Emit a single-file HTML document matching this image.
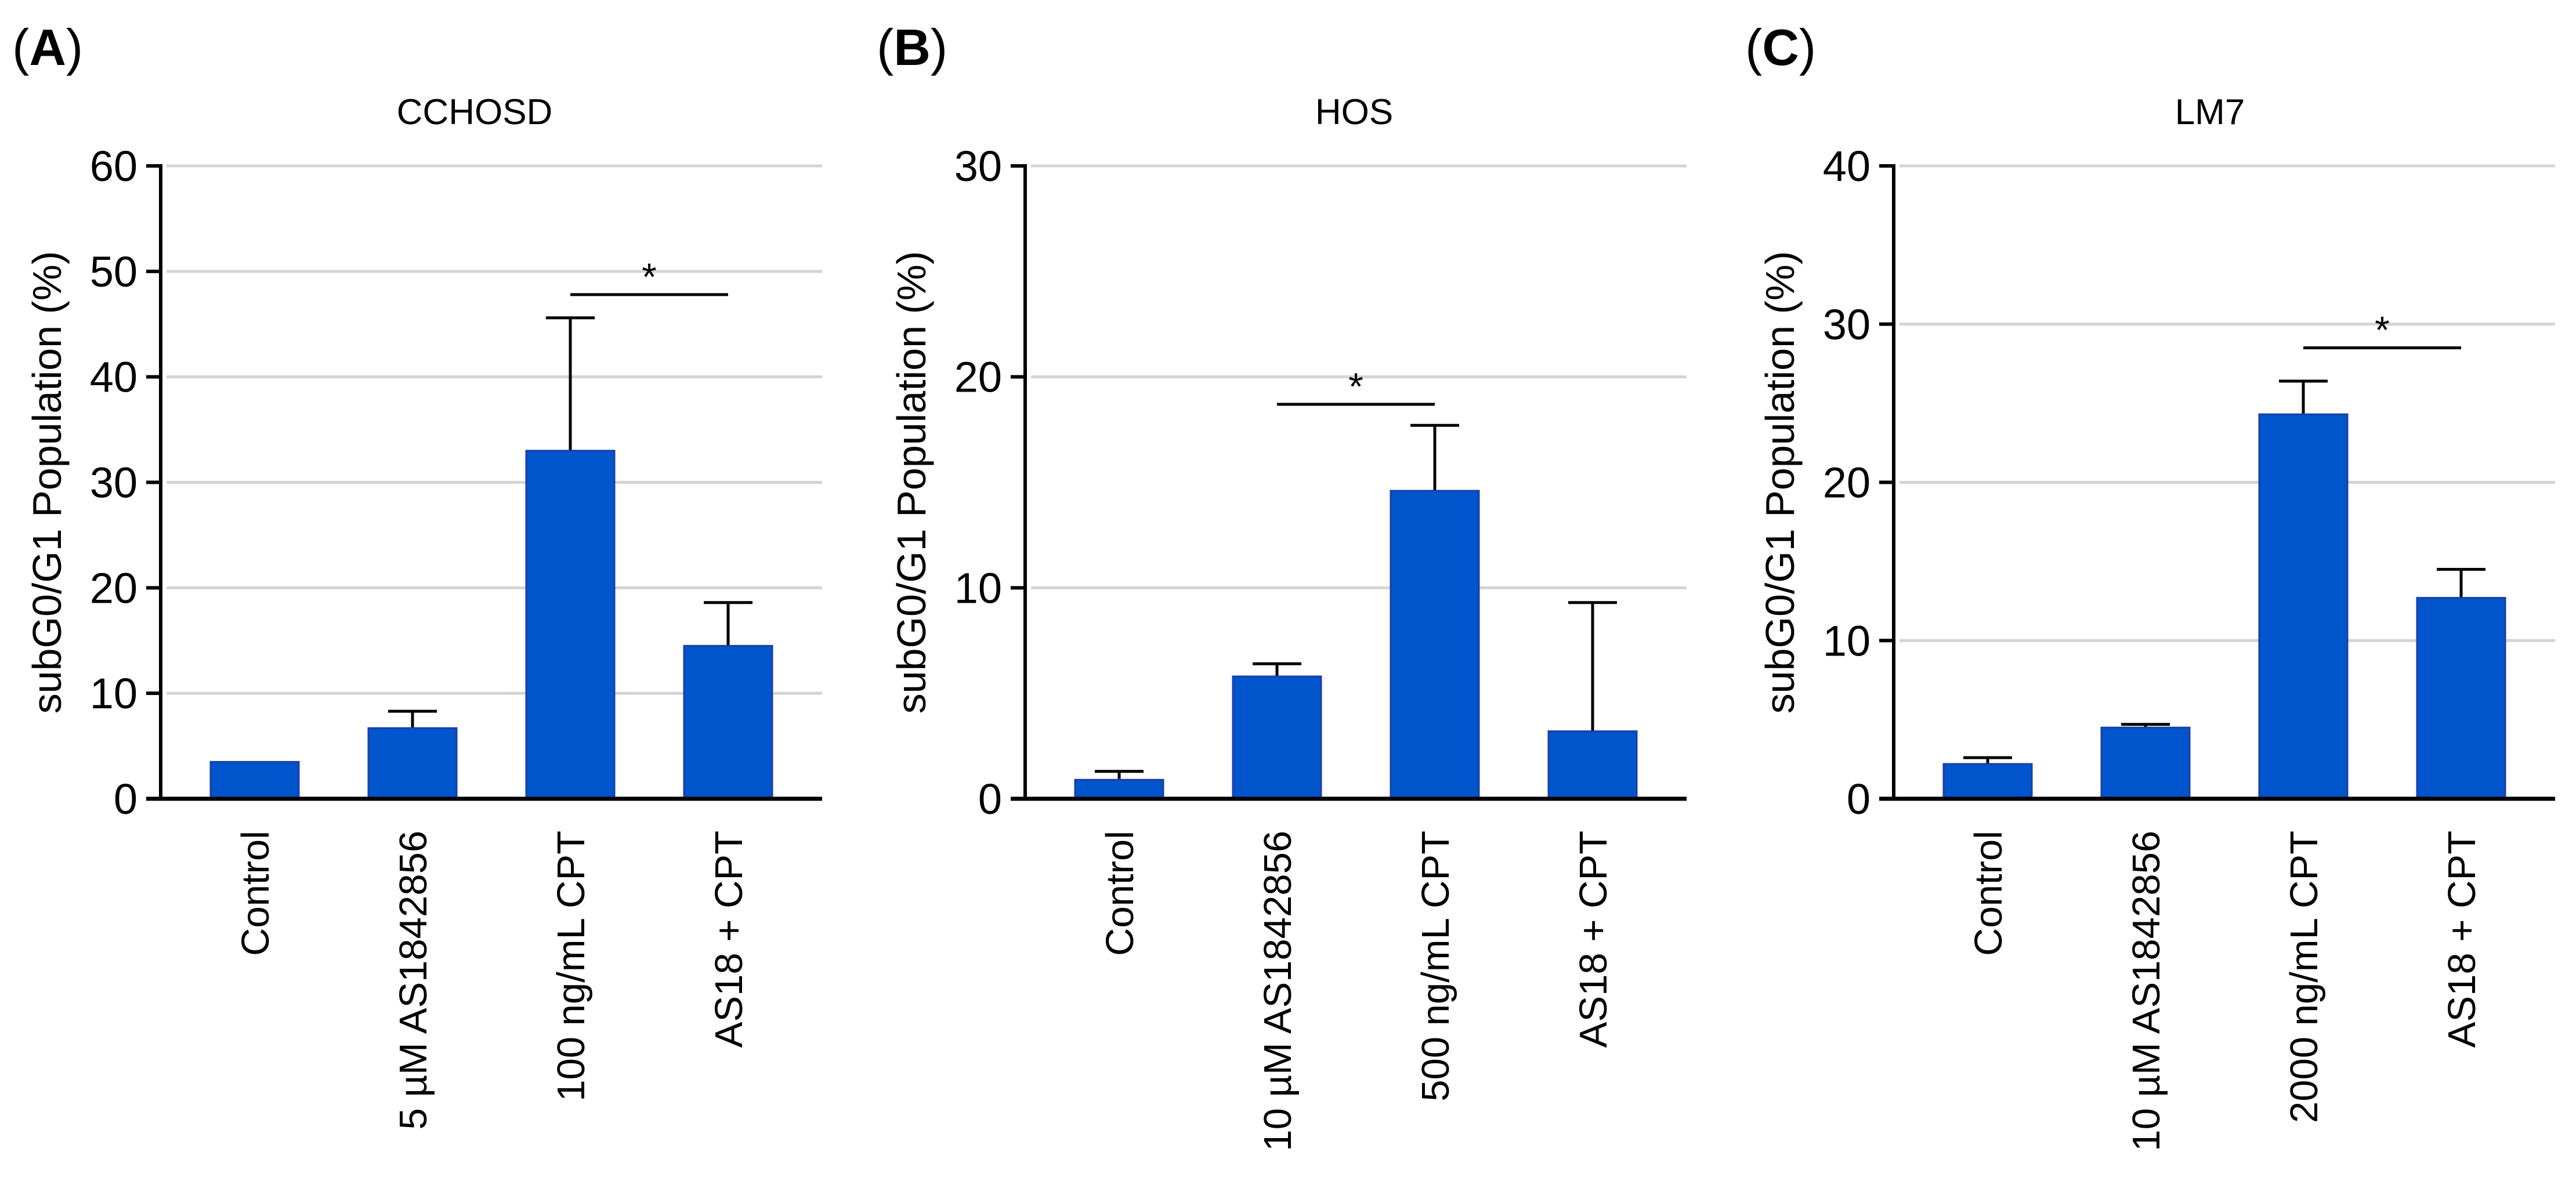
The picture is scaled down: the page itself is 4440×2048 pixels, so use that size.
<!DOCTYPE html>
<html><head><meta charset="utf-8"><style>
html,body{margin:0;padding:0;background:#fff;}
svg{display:block;font-family:"Liberation Sans",Arial,sans-serif;}
</style></head><body>
<svg id="fig" width="4440" height="2048" viewBox="0 0 4440 2048" xmlns="http://www.w3.org/2000/svg"></svg>
<script>
const categoriesA = ["Control","5 µM AS1842856","100 ng/mL CPT","AS18 + CPT"];
const valuesA = [3.5, 6.7, 33.0, 14.5];
const errorsA = [3.5, 8.3, 45.6, 18.6];
const ticksA = [0,10,20,30,40,50,60];
const sigA = [2, 3, 47.8];

const categoriesB = ["Control","10 µM AS1842856","500 ng/mL CPT","AS18 + CPT"];
const valuesB = [0.9, 5.8, 14.6, 3.2];
const errorsB = [1.3, 6.4, 17.7, 9.3];
const ticksB = [0,10,20,30];
const sigB = [1, 2, 18.7];

const categoriesC = ["Control","10 µM AS1842856","2000 ng/mL CPT","AS18 + CPT"];
const valuesC = [2.2, 4.5, 24.3, 12.7];
const errorsC = [2.6, 4.7, 26.4, 14.5];
const ticksC = [0,10,20,30,40];
const sigC = [2, 3, 28.5];

const NS = "http://www.w3.org/2000/svg";
const svg = document.getElementById("fig");
function mk(tag, attrs, parent, text){
  const e = document.createElementNS(NS, tag);
  for (const k in attrs) e.setAttribute(k, attrs[k]);
  if (text !== undefined) e.textContent = text;
  (parent||svg).appendChild(e);
  return e;
}
const Y0 = 1377, YTOP = 286;
function panel(id, letter, title, titleX, axisX, cats, vals, errs, ticks, sig){
  const g = mk("g", {});
  
  
  const maxV = ticks[ticks.length-1];
  const y = v => Y0 - (v/maxV)*(Y0-YTOP);
  const xc = i => axisX + 86 + 76 + i*272;
  const gridEnd = axisX + 1140;
  const pl = mk("text", {x: axisX-256, y: 112, "font-size": 88}, g);
  
  
  mk("tspan", {}, pl, "(");
  mk("tspan", {"font-weight": "bold"}, pl, letter);
  mk("tspan", {}, pl, ")");
  const tt = mk("text", {x: titleX, y: 214, "font-size": 62, "text-anchor": "middle"}, g, title);
  
  
  ticks.forEach(t => {
    if (t > 0) {
      const gl = mk("line", {x1: axisX+10, x2: gridEnd, y1: y(t), y2: y(t), stroke: "#d4d4d4", "stroke-width": 5}, g);
      
      
    }
    const tk = mk("line", {x1: axisX-25, x2: axisX, y1: y(t), y2: y(t), stroke: "#000", "stroke-width": 6}, g);
    
    
    const tl = mk("text", {x: axisX-40, y: y(t)+26, "font-size": 74, "text-anchor": "end"}, g, String(t));
    
    
  });
  const yl = mk("text", {x: 0, y: 0, "font-size": 70, "text-anchor": "middle", transform: "translate(" + (axisX-172) + "," + ((Y0+YTOP)/2) + ") rotate(-90)"}, g, "subG0/G1 Population (%)");
  
  
  cats.forEach((c, i) => {
    const cx = xc(i);
    const top = y(errs[i]);
    if (errs[i] > vals[i]) {
      const ev = mk("line", {x1: cx, x2: cx, y1: y(vals[i]), y2: top, stroke: "#000", "stroke-width": 5}, g);
      
      
      const ec = mk("line", {x1: cx-42, x2: cx+42, y1: top, y2: top, stroke: "#000", "stroke-width": 5}, g);
      
      
    }
    const b = mk("rect", {x: cx-76, y: y(vals[i]), width: 152, height: Y0 - y(vals[i]), fill: "#0055cc", stroke: "#1a3fa8", "stroke-width": 3}, g);
    
    
    const cl = mk("text", {x: 0, y: 0, "font-size": 67, "text-anchor": "end", transform: "translate(" + (cx+24) + ",1432) rotate(-90)"}, g, c);
    
    
  });
  const ax = mk("line", {x1: axisX, x2: axisX, y1: YTOP-3, y2: Y0, stroke: "#000", "stroke-width": 6}, g);
  
  
  const bx = mk("line", {x1: axisX-25, x2: gridEnd, y1: Y0, y2: Y0, stroke: "#000", "stroke-width": 7}, g);
  
  
  const sy = y(sig[2]);
  const sl = mk("line", {x1: xc(sig[0]), x2: xc(sig[1]), y1: sy, y2: sy, stroke: "#000", "stroke-width": 5}, g);
  
  
  const st = mk("text", {x: (xc(sig[0])+xc(sig[1]))/2, y: sy-8, "font-size": 66, "text-anchor": "middle"}, g, "*");
  
  
}
panel("a", "A", "CCHOSD", 818, 277, categoriesA, valuesA, errorsA, ticksA, sigA);
panel("b", "B", "HOS", 2334, 1767, categoriesB, valuesB, errorsB, ticksB, sigB);
panel("c", "C", "LM7", 3809, 3264, categoriesC, valuesC, errorsC, ticksC, sigC);
</script>
</body></html>
